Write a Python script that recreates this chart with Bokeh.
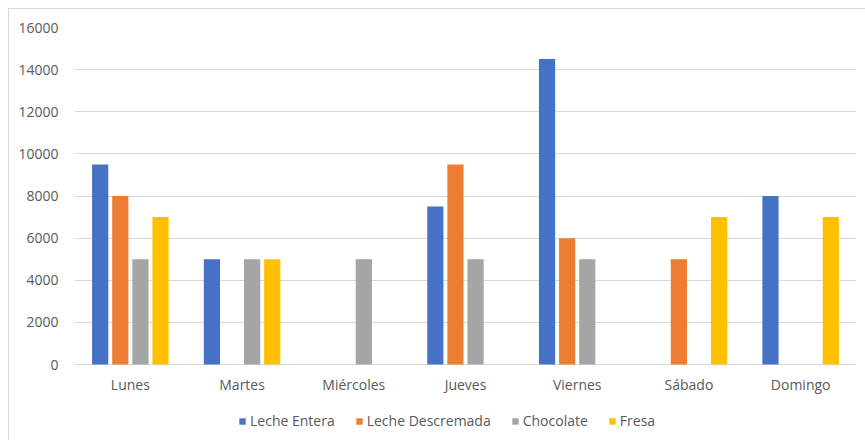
from bokeh.plotting import figure
from bokeh.models import ColumnDataSource, Legend, LegendItem, FixedTicker, FactorRange, InlineStyleSheet
from bokeh.transform import dodge
from bokeh.core.properties import value
from bokeh.embed import file_html
from bokeh.resources import INLINE

days = ["Lunes", "Martes", "Miércoles", "Jueves", "Viernes", "Sábado", "Domingo"]
leche_entera = [9500, 5000, 0, 7500, 14500, 0, 8000]
leche_descremada = [8000, 0, 0, 9500, 6000, 5000, 0]
chocolate = [5000, 5000, 5000, 5000, 5000, 0, 0]
fresa = [7000, 5000, 0, 0, 0, 7000, 7000]
y_ticks = [0, 2000, 4000, 6000, 8000, 10000, 12000, 14000, 16000]

series_names = ["Leche Entera", "Leche Descremada", "Chocolate", "Fresa"]
series_keys = ["le", "ld", "ch", "fr"]
colors = ["#4472C4", "#ED7D31", "#A5A5A5", "#FFC000"]
offsets = [-0.27, -0.09, 0.09, 0.27]

src = ColumnDataSource(dict(day=days, le=leche_entera, ld=leche_descremada,
                            ch=chocolate, fr=fresa, zero=[0] * len(days)))

FONT = "Open Sans"
TXT = "#595959"

border_css = InlineStyleSheet(css="""
:host::after {
  content: '';
  position: absolute;
  left: 8px; top: 8px; width: 857px; height: 432px;
  border-left: 1px solid #d9d9d9;
  border-top: 1px solid #d9d9d9;
  pointer-events: none;
  box-sizing: border-box;
}
""")

# frame extends below zero to leave room for the category labels and legend
p = figure(width=865, height=440,
           x_range=FactorRange(*days), y_range=(-3608, 16000),
           output_backend="svg", toolbar_location=None,
           min_border_left=74, min_border_right=9, min_border_top=27, min_border_bottom=0,
           stylesheets=[border_css])
p.border_fill_color = "white"
p.outline_line_color = None
p.xaxis.visible = False
p.x_range.range_padding = 0

renderers = []
for key, col, off in zip(series_keys, colors, offsets):
    r = p.vbar(x=dodge("day", off, range=p.x_range), top=key, width=0.145, source=src,
               fill_color=col, line_color=None)
    renderers.append(r)

# category labels under the zero line
p.text(x="day", y="zero", text="day", source=src, y_offset=10,
       text_align="center", text_baseline="top",
       text_font=value(FONT), text_font_size="14px", text_color=TXT)

p.yaxis.ticker = FixedTicker(ticks=y_ticks)
p.ygrid.ticker = FixedTicker(ticks=y_ticks)
p.ygrid.grid_line_color = "#d9d9d9"
p.xgrid.grid_line_color = None
p.yaxis.axis_line_color = None
p.yaxis.major_tick_line_color = None
p.yaxis.minor_tick_line_color = None
p.yaxis.major_tick_out = 0
p.yaxis.major_tick_in = 0
p.yaxis.minor_tick_out = 0
p.yaxis.major_label_text_font = FONT
p.yaxis.major_label_text_font_size = "14px"
p.yaxis.major_label_text_color = TXT
p.yaxis.major_label_standoff = 16

legend = Legend(items=[LegendItem(label=n, renderers=[r]) for n, r in zip(series_names, renderers)],
                orientation="horizontal", location=(164, 10))
legend.label_text_font = FONT
legend.label_text_font_size = "14px"
legend.label_text_color = TXT
legend.glyph_width = 8
legend.glyph_height = 8
legend.label_standoff = 4
legend.spacing = 20
legend.border_line_color = None
legend.background_fill_color = None
legend.margin = 0
legend.padding = 2
p.add_layout(legend)

open("out.html", "w").write(file_html(p, INLINE))
